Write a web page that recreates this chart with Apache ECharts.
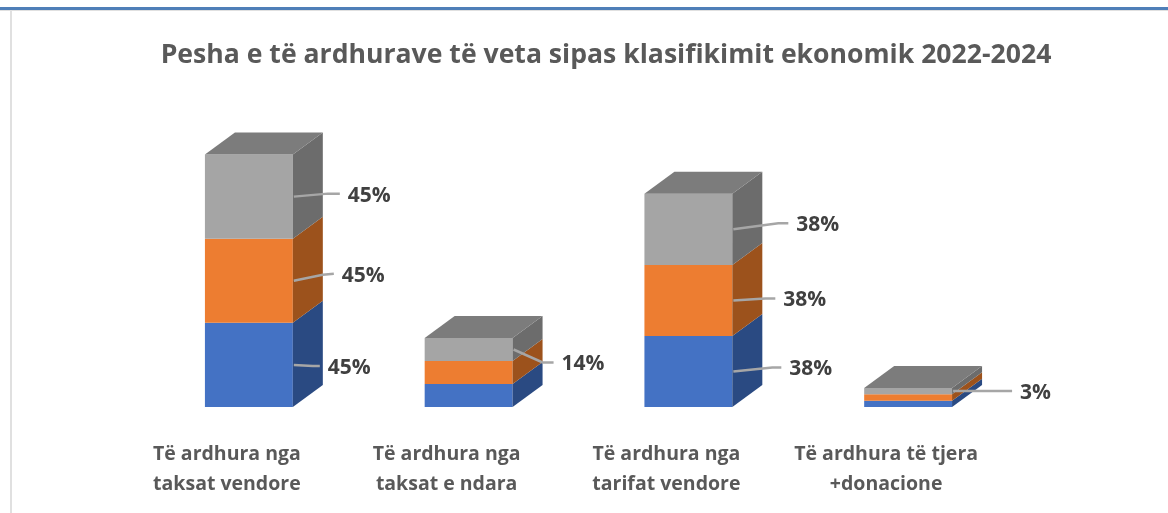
<!DOCTYPE html>
<html>
<head>
<meta charset="utf-8">
<style>
  html, body { margin: 0; padding: 0; background: #fff; }
  #chart { width: 1168px; height: 513px; }
</style>
<script src="https://cdn.jsdelivr.net/npm/echarts@6/dist/echarts.min.js"></script>
</head>
<body>
<div id="chart"></div>
<script>
const categories = ['Të ardhura nga\ntaksat vendore', 'Të ardhura nga\ntaksat e ndara', 'Të ardhura nga\ntarifat vendore', 'Të ardhura të tjera\n+donacione']

// segment heights (each bar is three equal parts)
const blueValues = [45, 12.3, 38, 3.4]
const orangeValues = [45, 12.3, 38, 3.4]
const greyValues = [45, 12.3, 38, 3.4]

// printed labels, the small bars only carry one
const blueLabels = ['45%', '', '38%', '']
const orangeLabels = ['45%', '', '38%', '']
const greyLabels = ['45%', '14%', '38%', '3%']

// leader line bend and end, relative to the middle of the front right edge
const blueLeaders = [[[20, 1], [27, 1]], null, [[40, -4], [49, -4]], null]
const orangeLeaders = [[[30, -6], [41, -7]], null, [[33, -2], [43, -2]], null]
const greyLeaders = [[[35, -3], [47, -3]], [[30, 13], [41, 13]], [[46, -6], [56, -6]], [[50, 0], [60, 0]]]

const depthX = 30
const depthY = 22

function makeSeries(name, values, labels, leaders, front, side, showTop, bases) {
  return {
    name: name,
    type: 'custom',
    silent: true,
    animation: false,
    encode: { x: 0, y: [1, 2] },
    data: values.map((v, i) => [i, bases[i], bases[i] + v]),
    renderItem(params, api) {
      const i = api.value(0)
      const lo = api.coord([i, api.value(1)])
      const hi = api.coord([i, api.value(2)])
      const w = api.size([1, 0])[0] * 0.4
      const x0 = lo[0] - w / 2
      const x1 = lo[0] + w / 2
      const y0 = lo[1]
      const y1 = hi[1]
      const children = [
        { type: 'rect', shape: { x: x0, y: y1, width: w, height: y0 - y1 }, style: { fill: front } },
        {
          type: 'polygon',
          shape: { points: [[x1, y0], [x1 + depthX, y0 - depthY], [x1 + depthX, y1 - depthY], [x1, y1]] },
          style: { fill: side }
        }
      ]
      if (showTop) {
        children.push({
          type: 'polygon',
          shape: { points: [[x0, y1], [x0 + depthX, y1 - depthY], [x1 + depthX, y1 - depthY], [x1, y1]] },
          style: { fill: '#7c7c7c' }
        })
      }
      if (labels[i]) {
        const ym = (y0 + y1) / 2
        const a = leaders[i][0]
        const b = leaders[i][1]
        children.push({
          type: 'polyline',
          shape: { points: [[x1 + 1, ym], [x1 + a[0], ym + a[1]], [x1 + b[0], ym + b[1]]] },
          style: { stroke: '#a6a6a6', lineWidth: 2.5, fill: 'none' }
        })
        children.push({
          type: 'text',
          style: {
            text: labels[i],
            x: x1 + b[0] + 8,
            y: ym + b[1] + 2,
            fill: '#404040',
            font: 'bold 21px "Open Sans"',
            verticalAlign: 'middle'
          }
        })
      }
      return { type: 'group', children: children }
    }
  }
}

const orangeBases = blueValues
const greyBases = blueValues.map((v, i) => v + orangeValues[i])

const chart = echarts.init(document.getElementById('chart'))
chart.setOption({
  animation: false,
  backgroundColor: '#ffffff',
  title: {
    text: 'Pesha e të ardhurave të veta sipas klasifikimit ekonomik 2022-2024',
    left: 601,
    top: 50,
    textAlign: 'center',
    textVerticalAlign: 'middle',
    textStyle: { color: '#595959', fontFamily: 'Open Sans', fontWeight: 'bold', fontSize: 26.6 }
  },
  graphic: [
    { type: 'rect', shape: { x: 0, y: 7, width: 1168, height: 3 }, style: { fill: '#4f7fb8' } },
    { type: 'rect', shape: { x: 0, y: 10, width: 1168, height: 1 }, style: { fill: '#e0e0e0' } },
    { type: 'rect', shape: { x: 10, y: 10, width: 2, height: 503 }, style: { fill: '#e0e0e0' } }
  ],
  grid: { left: 139, right: 150, top: 126.5, bottom: 106 },
  xAxis: {
    type: 'category',
    data: categories,
    axisLine: { show: false },
    axisTick: { show: false },
    axisLabel: {
      color: '#595959',
      fontFamily: 'Open Sans',
      fontWeight: 'bold',
      fontSize: 19.5,
      lineHeight: 30,
      margin: 32,
      padding: [0, 44, 0, 0],
      interval: 0
    }
  },
  yAxis: { type: 'value', min: 0, max: 150, show: false, splitLine: { show: false } },
  series: [
    makeSeries('Blue', blueValues, blueLabels, blueLeaders, '#4472c4', '#2a4a82', false, [0, 0, 0, 0]),
    makeSeries('Orange', orangeValues, orangeLabels, orangeLeaders, '#ed7d31', '#9c521c', false, orangeBases),
    makeSeries('Grey', greyValues, greyLabels, greyLeaders, '#a5a5a5', '#6c6c6c', true, greyBases)
  ]
})
</script>
</body>
</html>
